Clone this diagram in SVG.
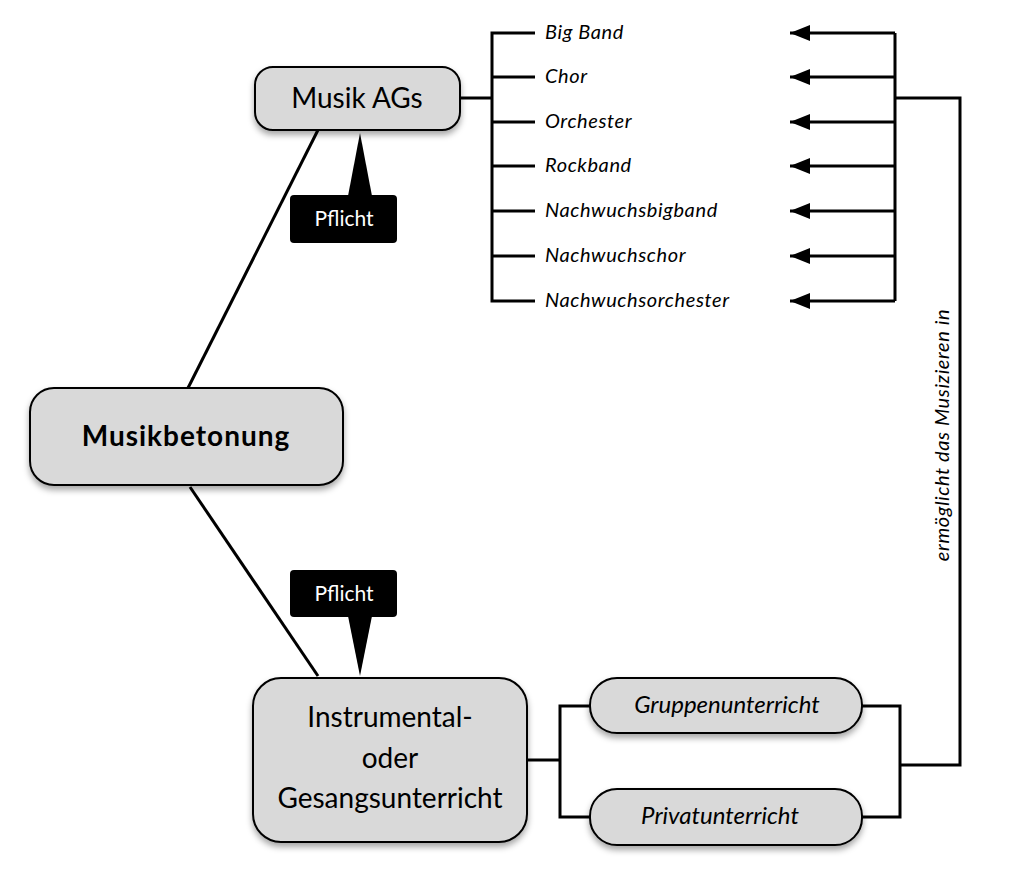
<svg xmlns="http://www.w3.org/2000/svg" width="1023" height="871" viewBox="0 0 1023 871">
<defs>
<style>
.n{fill:#d9d9d9;stroke:#000;stroke-width:2}
.c{fill:none;stroke:#000;stroke-width:3}
.t{font-family:Lato,"Noto Sans",sans-serif;fill:#000}
.i{font-style:italic;font-size:20px;letter-spacing:0.6px}
.b{font-style:italic;font-size:24px}
.w{fill:#fff;font-size:21px}
.p{fill:#000}
</style>
<filter id="sh" x="-10%" y="-10%" width="130%" height="140%"><feDropShadow dx="0" dy="4" stdDeviation="3" flood-opacity="0.35"/></filter>
<marker id="ah" viewBox="0 0 20 16" refX="20" refY="8" markerWidth="20" markerHeight="16" orient="auto" markerUnits="userSpaceOnUse"><path d="M0,0L20,8L0,16z" fill="#000"/></marker>
</defs>
<g id="connectors">
<path class="c" d="M318,130 L188,388"/>
<path class="c" d="M190,487 L318,676"/>
<path class="c" d="M460,98 H492 M535,33 H492 V301 H535 M492,77 H535 M492,122 H535 M492,166 H535 M492,211 H535 M492,256 H535"/>
<path class="c" d="M895,33 V301 M895,98 H960 V765 H900"/>
<g class="c" marker-end="url(#ah)">
<path d="M895,33 H790"/><path d="M895,77 H790"/><path d="M895,122 H790"/><path d="M895,166 H790"/><path d="M895,211 H790"/><path d="M895,256 H790"/><path d="M895,301 H790"/>
</g>
<path class="c" d="M527,760 H560 M590,706 H560 V817 H590 M862,706 H900 V817 H862"/>
<text class="t i" transform="translate(949,435) rotate(-90)" text-anchor="middle">ermöglicht das Musizieren in</text>
</g>
<g id="musikags">
<rect class="n" filter="url(#sh)" x="255" y="67" width="205" height="63" rx="18"/>
<text class="t" x="357" y="108" text-anchor="middle" font-size="28">Musik AGs</text>
</g>
<g id="pflicht1">
<path class="p" d="M360,133 L372,196 H348 z"/>
<rect class="p" x="290" y="195" width="107" height="48" rx="4"/>
<text class="t w" x="344" y="226" text-anchor="middle">Pflicht</text>
</g>
<g id="musikbetonung">
<rect class="n" filter="url(#sh)" x="30" y="388" width="313" height="97" rx="24"/>
<text class="t" x="186" y="446" text-anchor="middle" font-size="28" font-weight="bold" letter-spacing="1">Musikbetonung</text>
</g>
<g id="pflicht2">
<path class="p" d="M348,616 H372 L360,676 z"/>
<rect class="p" x="290" y="570" width="107" height="47" rx="4"/>
<text class="t w" x="344" y="601" text-anchor="middle">Pflicht</text>
</g>
<g id="instrumental">
<rect class="n" filter="url(#sh)" x="253" y="678" width="274" height="164" rx="28"/>
<text class="t" x="390" y="727" text-anchor="middle" font-size="28">Instrumental-</text>
<text class="t" x="390" y="768" text-anchor="middle" font-size="28">oder</text>
<text class="t" x="390" y="808" text-anchor="middle" font-size="28">Gesangsunterricht</text>
</g>
<g id="gruppen">
<rect class="n" filter="url(#sh)" x="590" y="678" width="272" height="55" rx="27"/>
<text class="t b" x="727" y="713" text-anchor="middle">Gruppenunterricht</text>
</g>
<g id="privat">
<rect class="n" filter="url(#sh)" x="590" y="789" width="272" height="56" rx="27"/>
<text class="t b" x="720" y="824" text-anchor="middle">Privatunterricht</text>
</g>
<g id="items" class="t">
<text class="i" x="545" y="39">Big Band</text>
<text class="i" x="545" y="83">Chor</text>
<text class="i" x="545" y="128">Orchester</text>
<text class="i" x="545" y="172">Rockband</text>
<text class="i" x="545" y="217">Nachwuchsbigband</text>
<text class="i" x="545" y="262">Nachwuchschor</text>
<text class="i" x="545" y="307">Nachwuchsorchester</text>
</g>
</svg>
